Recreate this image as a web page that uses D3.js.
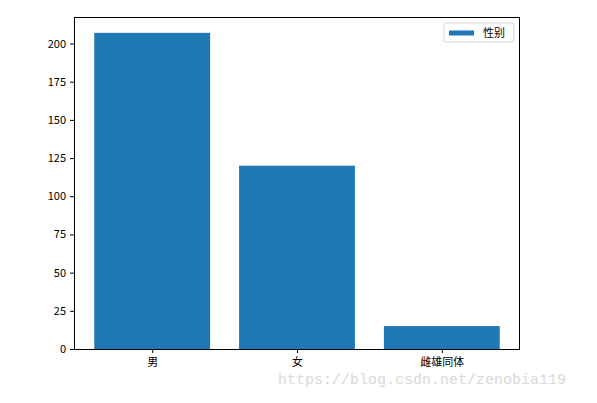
<!DOCTYPE html>
<html>
<head>
<meta charset="UTF-8">
<script src="https://cdn.jsdelivr.net/npm/d3@7"></script>
<style>
  body { margin: 0; background: #fff; }
  text { font-family: "Noto Sans CJK SC", sans-serif; }
</style>
</head>
<body>
<div id="chart"></div>
<script>
const categories = ["男", "女", "雌雄同体"];
const counts = [207, 120, 15];
const yTicks = [0, 25, 50, 75, 100, 125, 150, 175, 200];
const seriesName = "性别";

const W = 597, H = 403;
const m = { left: 74, top: 17, right: 77, bottom: 54 };
const iw = W - m.left - m.right, ih = H - m.top - m.bottom;

const svg = d3.select("#chart").append("svg")
    .attr("width", W).attr("height", H);
const g = svg.append("g").attr("transform", `translate(${m.left},${m.top})`);

// matplotlib-style limits: bars width 0.8 at 0..n-1 with 5% margins
const n = categories.length;
const span = (n - 1) + 0.8;
const x = d3.scaleLinear()
    .domain([-0.4 - 0.05 * span, n - 1 + 0.4 + 0.05 * span])
    .range([0, iw]);
const y = d3.scaleLinear().domain([0, d3.max(counts) * 1.05]).range([ih, 0]);

g.selectAll("rect.bar")
    .data(counts)
    .join("rect")
    .attr("class", "bar")
    .attr("x", (d, i) => x(i - 0.4))
    .attr("width", x(0.8) - x(0))
    .attr("y", d => y(d))
    .attr("height", d => y(0) - y(d))
    .attr("fill", "#1f77b4");

const yAxis = g.append("g")
    .call(d3.axisLeft(y).tickValues(yTicks).tickSize(4).tickPadding(4));
const xAxis = g.append("g").attr("transform", `translate(0,${ih})`)
    .call(d3.axisBottom(x).tickValues(d3.range(n)).tickFormat(i => categories[i])
        .tickSize(4).tickPadding(5));
[yAxis, xAxis].forEach(a => {
  a.select(".domain").remove();
  a.selectAll("line").attr("stroke", "#000").attr("stroke-width", 1);
  a.selectAll("text").attr("fill", "#000").style("font-size", "11px");
});

// frame
g.append("rect").attr("x", 0.5).attr("y", 0.5).attr("width", iw - 1).attr("height", ih)
    .attr("fill", "none").attr("stroke", "#000").attr("stroke-width", 1)
    .attr("shape-rendering", "crispEdges");

// legend
const lg = g.append("g").attr("transform", `translate(${iw - 76},6)`);
lg.append("rect").attr("width", 70).attr("height", 19).attr("rx", 2)
    .attr("fill", "#fff").attr("fill-opacity", 0.8)
    .attr("stroke", "#ccc").attr("stroke-width", 0.8);
lg.append("rect").attr("x", 5).attr("y", 7.5).attr("width", 25).attr("height", 5)
    .attr("fill", "#1f77b4");
lg.append("text").attr("x", 39).attr("y", 13.5).style("font-size", "11px")
    .attr("fill", "#000").text(seriesName);

// watermark
svg.append("text").attr("x", 278).attr("y", 384)
    .style("font-family", "'Liberation Mono', monospace").style("font-size", "15px")
    .attr("fill", "#d9d9d9").text("https://blog.csdn.net/zenobia119");
</script>
</body>
</html>
